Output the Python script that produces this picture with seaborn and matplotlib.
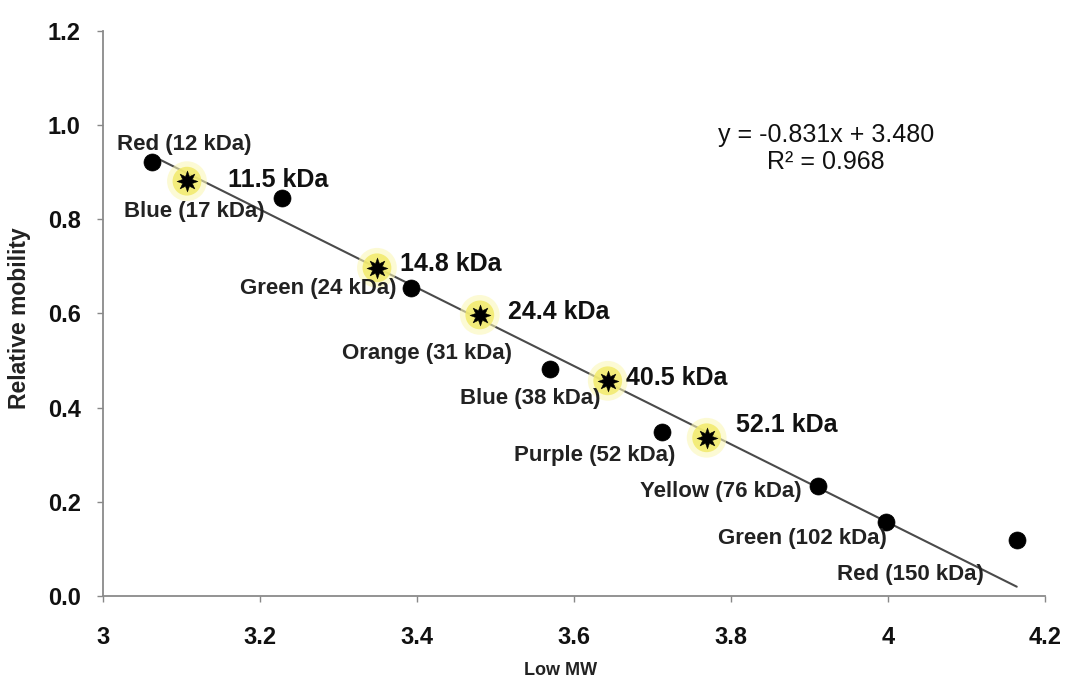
import numpy as np
import pandas as pd
import matplotlib
matplotlib.use("Agg")
import matplotlib.pyplot as plt
import seaborn as sns

# Marker standards (log MW vs. relative mobility)
std_x = [3.062, 3.228, 3.393, 3.569, 3.712, 3.911, 3.997, 4.164]
std_y = [0.922, 0.845, 0.654, 0.482, 0.348, 0.234, 0.157, 0.119]
std_labels = ["Red (12 kDa)", "Blue (17 kDa)", "Green (24 kDa)", "Orange (31 kDa)",
              "Blue (38 kDa)", "Purple (52 kDa)", "Yellow (76 kDa)",
              "Green (102 kDa)", "Red (150 kDa)"]

# Unknown bands estimated from the calibration line
unk_x = [3.107, 3.349, 3.480, 3.643, 3.769]
unk_y = [0.881, 0.697, 0.597, 0.457, 0.336]
unk_labels = ["11.5 kDa", "14.8 kDa", "24.4 kDa", "40.5 kDa", "52.1 kDa"]

# Linear fit
slope, intercept, r2 = -0.831, 3.480, 0.968

# Text anchor positions (left edge, vertical centre) in data units
std_label_pos = [(3.018, 0.958), (3.027, 0.816), (3.175, 0.652), (3.305, 0.515),
                 (3.455, 0.420), (3.523, 0.299), (3.684, 0.222), (3.784, 0.122),
                 (3.935, 0.045)]
unk_label_pos = [(3.159, 0.884), (3.378, 0.706), (3.516, 0.604), (3.666, 0.464),
                 (3.806, 0.363)]

sns.set_style("white")
plt.rcParams["font.family"] = ["Liberation Sans", "DejaVu Sans"]

fig = plt.figure(figsize=(10.66, 6.84), dpi=100)
ax = fig.add_axes([0.0966, 0.1287, 0.8837, 0.826])

# Trend line across the range of standards
fit_x = np.array([min(std_x), max(std_x)])
fit_df = pd.DataFrame({"x": fit_x, "y": slope * fit_x + intercept})
sns.lineplot(data=fit_df, x="x", y="y", ax=ax, color="#4a4a4a", linewidth=1.5, zorder=2)

std_df = pd.DataFrame({"x": std_x, "y": std_y})
sns.scatterplot(data=std_df, x="x", y="y", ax=ax, color="black", s=150,
                edgecolor="black", linewidth=0.5, zorder=4)

unk_df = pd.DataFrame({"x": unk_x, "y": unk_y})
# soft yellow halo under the unknown bands
sns.scatterplot(data=unk_df, x="x", y="y", ax=ax, color="#fbf7b8", s=820,
                edgecolor="none", alpha=0.6, zorder=3)
sns.scatterplot(data=unk_df, x="x", y="y", ax=ax, color="#f2ea6a", s=430,
                edgecolor="none", alpha=0.85, zorder=3)
sns.scatterplot(data=unk_df, x="x", y="y", ax=ax, color="black", s=230,
                marker=(8, 1, 0), edgecolor="black", linewidth=0.3, zorder=5)

for txt, (tx, ty) in zip(std_labels, std_label_pos):
    ax.text(tx, ty, txt, ha="left", va="center", fontsize=16,
            fontweight="bold", color="#222222", zorder=6)
for txt, (tx, ty) in zip(unk_labels, unk_label_pos):
    ax.text(tx, ty, txt, ha="left", va="center", fontsize=18,
            fontweight="bold", color="#111111", zorder=6)

ax.text(3.921, 0.979, f"y = {slope:.3f}x + {intercept:.3f}",
        ha="center", va="center", fontsize=18, color="#111111")
ax.text(3.921, 0.922, f"R² = {r2:.3f}",
        ha="center", va="center", fontsize=18, color="#111111")

ax.set_xlim(3, 4.2)
ax.set_ylim(0, 1.2)
ax.set_xticks([3, 3.2, 3.4, 3.6, 3.8, 4, 4.2])
ax.set_xticklabels(["3", "3.2", "3.4", "3.6", "3.8", "4", "4.2"])
ax.set_yticks([0, 0.2, 0.4, 0.6, 0.8, 1.0, 1.2])
ax.set_yticklabels(["0.0", "0.2", "0.4", "0.6", "0.8", "1.0", "1.2"])

for lab in ax.get_xticklabels() + ax.get_yticklabels():
    lab.set_fontweight("bold")
    lab.set_fontsize(17)
    lab.set_color("#111111")

ax.tick_params(axis="both", which="major", direction="out", length=4.5,
               width=1, color="#888888", left=True, bottom=True)
ax.tick_params(axis="y", pad=11.5)
ax.tick_params(axis="x", pad=17)

for side in ["top", "right"]:
    ax.spines[side].set_visible(False)
for side in ["left", "bottom"]:
    ax.spines[side].set_color("#8a8a8a")
    ax.spines[side].set_linewidth(1.3)

ax.set_xlabel("Low MW", fontsize=13, fontweight="bold", color="#222222",
              family=["Liberation Sans Narrow", "Liberation Sans", "DejaVu Sans"])
ax.xaxis.set_label_coords(0.486, -0.117)
ax.set_ylabel("Relative mobility", fontsize=16.5, fontweight="bold", color="#222222")
ax.yaxis.set_label_coords(-0.076, 0.492)

fig.savefig("out.png", dpi=100, facecolor="white")
